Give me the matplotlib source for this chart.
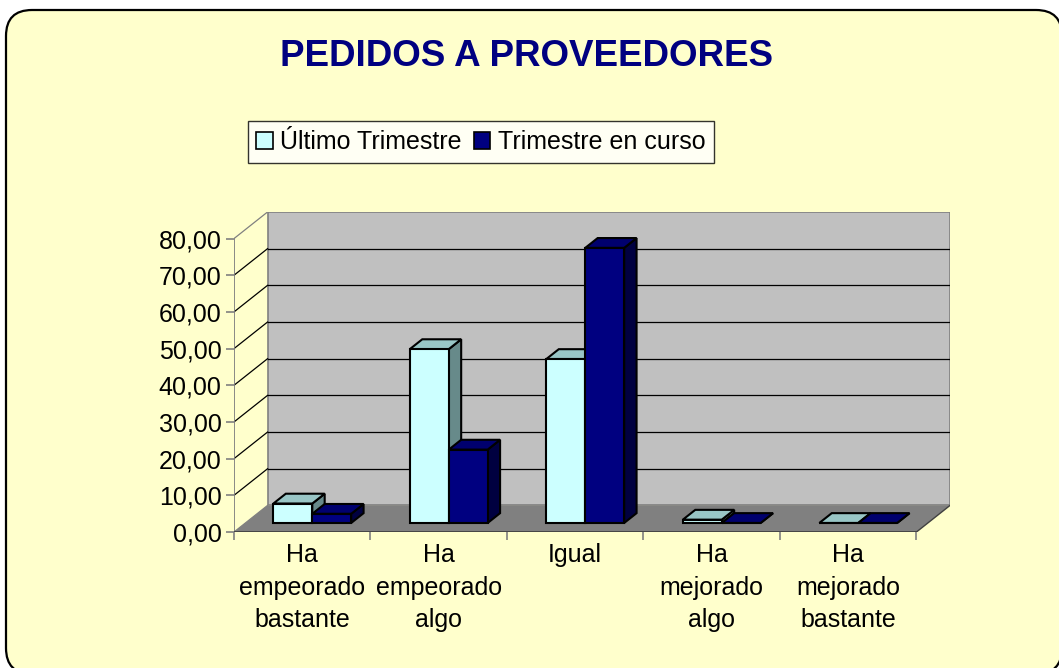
import matplotlib
matplotlib.use('Agg')
import matplotlib.pyplot as plt
from matplotlib.patches import Polygon, Patch, FancyBboxPatch
from matplotlib.transforms import IdentityTransform

plt.rcParams['font.family'] = ['Liberation Sans', 'DejaVu Sans']

categories = ['Ha\nempeorado\nbastante', 'Ha\nempeorado\nalgo', 'Igual',
              'Ha\nmejorado\nalgo', 'Ha\nmejorado\nbastante']
ultimo = [5.3, 47.4, 44.7, 0.9, 0.0]
en_curso = [2.5, 20.0, 75.0, 0.0, 0.0]
series_names = ['Último Trimestre', 'Trimestre en curso']
yticks = [0, 10, 20, 30, 40, 50, 60, 70, 80]

# colours: front, top, side
light = ('#CCFFFF', '#99C6C6', '#678A8A')
dark = ('#000080', '#00006E', '#000040')

W, H = 1059, 668
fig = plt.figure(figsize=(W / 100, H / 100), dpi=100, facecolor='white')

# rounded background frame (pixels)
frame = FancyBboxPatch((6, -6), 1056, H - 4, boxstyle='round,pad=0,rounding_size=26',
                       transform=IdentityTransform(), facecolor='#FFFFCC',
                       edgecolor='black', linewidth=1.6, zorder=0)
fig.add_artist(frame)

# axes: front-left-bottom corner at (234,532), back-right-top at (950,212)
ax = fig.add_axes([234 / W, (H - 532) / H, (950 - 234) / W, (532 - 212) / H])
ax.set_facecolor('none')
n = len(categories)
ymax = 80
DX = 0.2456     # depth shift in category units
DY = 7.24       # depth shift in value units
ax.set_xlim(0, n + DX)
ax.set_ylim(0, ymax + DY)
for s in ax.spines.values():
    s.set_visible(False)

grey = '#808080'
# floor
ax.add_patch(Polygon([(0, 0), (n, 0), (n + DX, DY), (DX, DY)], closed=True,
                     facecolor='#808080', edgecolor='none', zorder=1))
# back wall
ax.add_patch(Polygon([(DX, DY), (n + DX, DY), (n + DX, ymax + DY), (DX, ymax + DY)],
                     closed=True, facecolor='#C0C0C0', edgecolor=grey, lw=1.2, zorder=1))
# gridlines on back wall and side wall
for v in yticks:
    c = 'black' if 0 < v < ymax else grey
    ax.plot([0, DX], [v, v + DY], color=c, lw=0.9, zorder=2)
    if 0 < v < ymax:
        ax.plot([DX, n + DX], [v + DY, v + DY], color='black', lw=0.9, zorder=2)
# front axes lines
ax.plot([0, 0], [0, ymax], color=grey, lw=1.3, zorder=3)
ax.plot([0, n], [0, 0], color='#404040', lw=1.3, zorder=3)
ax.plot([n, n + DX], [0, DY], color='#404040', lw=1.0, zorder=3)


def bar3d(x0, x1, v, cols, z):
    f0, f1 = 0.34, 0.71
    bx0, bx1 = x0 + f0 * DX, x1 + f0 * DX
    y0 = f0 * DY
    y1 = y0 + v
    ddx, ddy = (f1 - f0) * DX, (f1 - f0) * DY
    kw = dict(closed=True, edgecolor='black', lw=1.5, joinstyle='miter', zorder=z)
    ax.add_patch(Polygon([(bx1, y0), (bx1 + ddx, y0 + ddy), (bx1 + ddx, y1 + ddy), (bx1, y1)],
                         facecolor=cols[2], **kw))
    ax.add_patch(Polygon([(bx0, y1), (bx1, y1), (bx1 + ddx, y1 + ddy), (bx0 + ddx, y1 + ddy)],
                         facecolor=cols[1], **kw))
    ax.add_patch(Polygon([(bx0, y0), (bx1, y0), (bx1, y1), (bx0, y1)],
                         facecolor=cols[0], **kw))


w = 0.285
for i in range(n):
    c = i + 0.49
    bar3d(c - w, c, ultimo[i], light, 5)
    bar3d(c, c + w, en_curso[i], dark, 6)

# ticks
ax.set_yticks(yticks)
ax.set_yticklabels([f'{v:.2f}'.replace('.', ',') for v in yticks])
ax.tick_params(axis='y', direction='out', length=6, color=grey, width=1.2,
               labelsize=18, pad=3)
ax.set_xticks(range(n + 1))
ax.set_xticklabels([''] * (n + 1))
ax.tick_params(axis='x', which='major', direction='out', length=6, color=grey, width=1.2)
ax.set_xticks([i + 0.5 for i in range(n)], minor=True)
ax.set_xticklabels(categories, minor=True)
ax.tick_params(axis='x', which='minor', length=0, labelsize=18, pad=8)
for t in ax.get_xticklabels(minor=True):
    t.set_linespacing(1.45)

# title
fig.text(527 / W, 1 - 56 / H, 'PEDIDOS A PROVEEDORES', ha='center', va='center',
         fontsize=26.5, fontweight='bold', color='#000080')

# legend
handles = [Patch(facecolor=light[0], edgecolor='black', lw=1.2),
           Patch(facecolor=dark[0], edgecolor='black', lw=1.2)]
leg = fig.legend(handles, series_names, loc='center', bbox_to_anchor=(481 / W, 1 - 142 / H),
                 ncol=2, fontsize=18, frameon=True, fancybox=False, edgecolor='black',
                 handlelength=0.65, handleheight=0.65, handletextpad=0.3,
                 columnspacing=0.5, borderpad=0.35, borderaxespad=0)
leg.get_frame().set_linewidth(1.0)
leg.get_frame().set_facecolor('white')

fig.savefig('out.png', dpi=100, facecolor='white')
